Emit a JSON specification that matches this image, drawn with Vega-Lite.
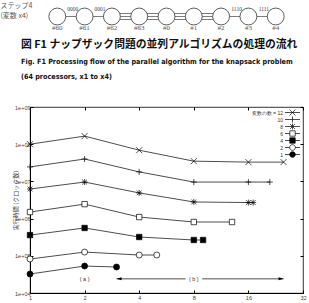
{
  "$schema": "https://vega.github.io/schema/vega-lite/v6.json",
  "padding": 0,
  "background": "white",
  "spacing": 0,
  "config": {"font": "Liberation Sans", "view": {"stroke": "black", "strokeWidth": 0.8}},
  "datasets": {
    "nodes": [
      {"idx": 0, "name": "#60"}, {"idx": 1, "name": "#61"}, {"idx": 2, "name": "#62"},
      {"idx": 3, "name": "#63"}, {"idx": 4, "name": "#0"}, {"idx": 5, "name": "#1"},
      {"idx": 6, "name": "#2"}, {"idx": 7, "name": "#3"}, {"idx": 8, "name": "#4"}
    ],
    "edges": [
      {"from": 0, "to": 1, "kind": "single", "label": "0000"},
      {"from": 1, "to": 2, "kind": "single", "label": "0001"},
      {"from": 2, "to": 3, "kind": "triple", "label": ""},
      {"from": 3, "to": 4, "kind": "triple", "label": ""},
      {"from": 4, "to": 5, "kind": "triple", "label": ""},
      {"from": 5, "to": 6, "kind": "triple", "label": ""},
      {"from": 6, "to": 7, "kind": "single", "label": "1110"},
      {"from": 7, "to": 8, "kind": "single", "label": "1111"}
    ],
    "series": [
      {"vars": 12, "procs": 1, "clocks": 100000000}, {"vars": 12, "procs": 2, "clocks": 165000000},
      {"vars": 12, "procs": 4, "clocks": 69000000}, {"vars": 12, "procs": 8, "clocks": 35000000},
      {"vars": 12, "procs": 16, "clocks": 33000000}, {"vars": 12, "procs": 25, "clocks": 33000000},
      {"vars": 10, "procs": 1, "clocks": 24500000}, {"vars": 10, "procs": 2, "clocks": 40000000},
      {"vars": 10, "procs": 4, "clocks": 18000000}, {"vars": 10, "procs": 8, "clocks": 9600000},
      {"vars": 10, "procs": 16, "clocks": 9600000}, {"vars": 10, "procs": 21, "clocks": 9600000},
      {"vars": 8, "procs": 1, "clocks": 6250000}, {"vars": 8, "procs": 2, "clocks": 9600000},
      {"vars": 8, "procs": 4, "clocks": 4900000}, {"vars": 8, "procs": 8, "clocks": 2800000},
      {"vars": 8, "procs": 16, "clocks": 2700000}, {"vars": 8, "procs": 17, "clocks": 2700000},
      {"vars": 6, "procs": 1, "clocks": 1500000}, {"vars": 6, "procs": 2, "clocks": 2450000},
      {"vars": 6, "procs": 4, "clocks": 1100000}, {"vars": 6, "procs": 8, "clocks": 810000},
      {"vars": 6, "procs": 13, "clocks": 810000},
      {"vars": 4, "procs": 1, "clocks": 360000}, {"vars": 4, "procs": 2, "clocks": 560000},
      {"vars": 4, "procs": 4, "clocks": 320000}, {"vars": 4, "procs": 8, "clocks": 266000},
      {"vars": 4, "procs": 9, "clocks": 266000},
      {"vars": 2, "procs": 1, "clocks": 82000}, {"vars": 2, "procs": 2, "clocks": 126000},
      {"vars": 2, "procs": 4, "clocks": 105000}, {"vars": 2, "procs": 5, "clocks": 105000},
      {"vars": 1, "procs": 1, "clocks": 32400}, {"vars": 1, "procs": 2, "clocks": 53000},
      {"vars": 1, "procs": 3, "clocks": 50000}
    ],
    "notes": [
      {"label": "( a )", "procs": 2, "clocks": 24000},
      {"label": "( b )", "procs": 8, "clocks": 24000}
    ],
    "arrows": [
      {"from": 3, "to": 7.2, "clocks": 24000},
      {"from": 8.9, "to": 25, "clocks": 24000}
    ],
    "heads": [
      {"procs": 3, "clocks": 24000, "dir": "left"},
      {"procs": 25, "clocks": 24000, "dir": "right"}
    ]
  },
  "vconcat": [
    {
      "width": 273,
      "height": 38,
      "view": {"stroke": null},
      "layer": [
        {
          "data": {"name": "edges"},
          "transform": [{"filter": "datum.kind == 'single'"}],
          "mark": {"type": "rule", "stroke": "#444", "strokeWidth": 0.7},
          "encoding": {
            "x": {"field": "from", "type": "quantitative", "scale": {"domain": [-0.645, 8.16]}, "axis": null},
            "x2": {"field": "to"},
            "y": {"datum": "node", "type": "nominal", "scale": {"domain": ["node", "label"], "range": [11, 33], "padding": 0}, "axis": {
              "domain": false, "ticks": false, "labels": false,
              "title": ["ステップ4", "(変数 x4)"], "titleAngle": 0, "titleAlign": "left", "titleBaseline": "top",
              "titleX": -30, "titleY": 1, "titleFont": "Noto Sans CJK JP", "titleFontSize": 7, "titleFontWeight": "normal",
              "titleColor": "#555", "titleLineHeight": 10
            }}
          }
        },
        {
          "data": {"name": "edges"},
          "transform": [{"filter": "datum.kind == 'triple'"}],
          "mark": {"type": "rule", "stroke": "#444", "strokeWidth": 0.7, "yOffset": -3},
          "encoding": {
            "x": {"field": "from", "type": "quantitative"},
            "x2": {"field": "to"},
            "y": {"datum": "node", "type": "nominal"}
          }
        },
        {
          "data": {"name": "edges"},
          "transform": [{"filter": "datum.kind == 'triple'"}],
          "mark": {"type": "rule", "stroke": "#444", "strokeWidth": 0.7},
          "encoding": {
            "x": {"field": "from", "type": "quantitative"},
            "x2": {"field": "to"},
            "y": {"datum": "node", "type": "nominal"}
          }
        },
        {
          "data": {"name": "edges"},
          "transform": [{"filter": "datum.kind == 'triple'"}],
          "mark": {"type": "rule", "stroke": "#444", "strokeWidth": 0.7, "yOffset": 3},
          "encoding": {
            "x": {"field": "from", "type": "quantitative"},
            "x2": {"field": "to"},
            "y": {"datum": "node", "type": "nominal"}
          }
        },
        {
          "data": {"name": "edges"},
          "mark": {"type": "text", "fontSize": 5.5, "color": "#444", "dx": 15.5, "dy": -7.5, "font": "Liberation Serif"},
          "encoding": {
            "x": {"field": "from", "type": "quantitative"},
            "y": {"datum": "node", "type": "nominal"},
            "text": {"field": "label"}
          }
        },
        {
          "data": {"name": "nodes"},
          "mark": {"type": "point", "shape": "circle", "size": 285, "filled": true, "fill": "white", "stroke": "#333", "strokeWidth": 0.8, "opacity": 1},
          "encoding": {
            "x": {"field": "idx", "type": "quantitative"},
            "y": {"datum": "node", "type": "nominal"}
          }
        },
        {
          "data": {"name": "nodes"},
          "mark": {"type": "text", "fontSize": 7, "color": "#555", "font": "Liberation Serif"},
          "encoding": {
            "x": {"field": "idx", "type": "quantitative"},
            "y": {"datum": "label", "type": "nominal"},
            "text": {"field": "name"}
          }
        }
      ]
    },
    {
      "width": 273,
      "height": 186,
      "title": {
        "text": "図 F1 ナップザック問題の並列アルゴリズムの処理の流れ",
        "subtitle": ["Fig. F1  Processing flow of the parallel algorithm for the knapsack problem", "(64 processors, x1 to x4)"],
        "anchor": "start",
        "frame": "group",
        "dx": -9,
        "font": "Noto Sans CJK JP",
        "fontSize": 10.8,
        "fontWeight": "bold",
        "color": "#111",
        "subtitleFont": "DejaVu Sans Condensed",
        "subtitleFontSize": 7.2,
        "subtitleFontWeight": "bold",
        "subtitleColor": "#111",
        "subtitleLineHeight": 15,
        "subtitlePadding": 8,
        "offset": 25
      },
      "layer": [
        {
          "data": {"name": "series"},
          "mark": {"type": "line", "stroke": "black", "strokeWidth": 0.7},
          "encoding": {
            "x": {"field": "procs", "type": "quantitative", "scale": {"type": "log", "base": 2, "domain": [1, 32]},
              "axis": {"values": [1, 2, 4, 8, 16, 32], "title": null, "format": "d", "grid": false,
                "labelFontSize": 5.5, "labelColor": "#444", "labelFlush": false, "labelOverlap": false,
                "tickSize": -3, "tickColor": "black", "domainColor": "black", "labelPadding": 5}},
            "y": {"field": "clocks", "type": "quantitative", "scale": {"type": "log", "domain": [10000, 1000000000]},
              "axis": {"values": [10000, 100000, 1000000, 10000000, 100000000, 1000000000],
                "labelExpr": "'1e+0' + round(log(datum.value) / LN10)", "grid": false,
                "labelFontSize": 5.5, "labelColor": "#444", "labelFlush": false, "labelOverlap": false,
                "tickSize": -3, "tickColor": "black", "domainColor": "black", "labelPadding": 3,
                "title": "実行時間 (クロック数)", "titleFont": "Noto Sans CJK JP", "titleFontSize": 6,
                "titleFontWeight": "normal", "titleColor": "#444", "titlePadding": -4}},
            "detail": {"field": "vars", "type": "nominal"}
          }
        },
        {
          "data": {"name": "series"},
          "mark": {"type": "point", "filled": true, "stroke": "black", "strokeWidth": 0.7, "size": 36, "opacity": 1},
          "encoding": {
            "x": {"field": "procs", "type": "quantitative", "axis": null},
            "y": {"field": "clocks", "type": "quantitative", "axis": null},
            "shape": {"field": "vars", "type": "nominal", "legend": null, "scale": {
              "domain": [12, 10, 8, 6, 4, 2, 1],
              "range": ["M-1,-1L1,1M-1,1L1,-1", "M-1,0H1M0,-1V1", "M-1,0H1M0,-1V1M-0.8,-0.8L0.8,0.8M-0.8,0.8L0.8,-0.8",
                "M-0.9,-0.9H0.9V0.9H-0.9Z", "M-0.9,-0.9H0.9V0.9H-0.9Z", "circle", "circle"]}},
            "fill": {"field": "vars", "type": "nominal", "legend": null, "scale": {
              "domain": [12, 10, 8, 6, 4, 2, 1],
              "range": ["transparent", "transparent", "transparent", "white", "black", "white", "black"]}}
          }
        },
        {
          "data": {"name": "arrows"},
          "mark": {"type": "rule", "stroke": "black", "strokeWidth": 0.7},
          "encoding": {
            "x": {"field": "from", "type": "quantitative", "axis": null},
            "x2": {"field": "to"},
            "y": {"field": "clocks", "type": "quantitative", "axis": null}
          }
        },
        {
          "data": {"name": "heads"},
          "transform": [{"filter": "datum.dir == 'left'"}],
          "mark": {"type": "point", "shape": "M0,0L2,-0.6L2,0.6Z", "size": 25, "filled": true, "fill": "black", "opacity": 1},
          "encoding": {
            "x": {"field": "procs", "type": "quantitative", "axis": null},
            "y": {"field": "clocks", "type": "quantitative", "axis": null}
          }
        },
        {
          "data": {"name": "heads"},
          "transform": [{"filter": "datum.dir == 'right'"}],
          "mark": {"type": "point", "shape": "M0,0L-2,-0.6L-2,0.6Z", "size": 25, "filled": true, "fill": "black", "opacity": 1},
          "encoding": {
            "x": {"field": "procs", "type": "quantitative", "axis": null},
            "y": {"field": "clocks", "type": "quantitative", "axis": null}
          }
        },
        {
          "data": {"name": "notes"},
          "mark": {"type": "text", "fontSize": 5.5, "color": "#333"},
          "encoding": {
            "x": {"field": "procs", "type": "quantitative", "axis": null},
            "y": {"field": "clocks", "type": "quantitative", "axis": null},
            "text": {"field": "label"}
          }
        },
        {
          "data": {"name": "series"},
          "transform": [{"filter": "false"}],
          "mark": {"type": "point", "filled": true, "strokeWidth": 0.7, "size": 9, "opacity": 1},
          "encoding": {
            "x": {"field": "procs", "type": "quantitative",
              "axis": {"orient": "top", "values": [1, 2, 4, 8, 16, 32], "labels": false, "domain": false, "title": null,
                "grid": false, "tickSize": -3, "tickColor": "black"}},
            "y": {"field": "clocks", "type": "quantitative",
              "axis": {"orient": "right", "values": [10000, 100000, 1000000, 10000000, 100000000, 1000000000],
                "labels": false, "domain": false, "title": null, "grid": false, "tickSize": -3, "tickColor": "black"}},
            "shape": {"field": "vars", "type": "nominal", "scale": {
              "domain": [12, 10, 8, 6, 4, 2, 1],
              "range": ["M-5,0H5M-2,-2L2,2M-2,2L2,-2", "M-5,0H5M0,-2V2",
                "M-5,0H5M0,-2V2M-1.6,-1.6L1.6,1.6M-1.6,1.6L1.6,-1.6",
                "M-5,0H-1.8M1.8,0H5M-1.8,-1.8H1.8V1.8H-1.8Z", "M-5,0H5M-1.8,-1.8H1.8V1.8H-1.8Z",
                "M-5,0H-1.9M1.9,0H5M-1.9,0A1.9,1.9 0 1,0 1.9,0A1.9,1.9 0 1,0 -1.9,0Z",
                "M-5,0H5M-1.9,0A1.9,1.9 0 1,0 1.9,0A1.9,1.9 0 1,0 -1.9,0Z"]},
              "legend": {"orient": "none", "legendX": 260, "legendY": 3, "title": null,
                "labelExpr": "datum.label == '12' ? '変数の数 = 12' : datum.label",
                "labelFontSize": 5, "labelColor": "#333", "labelAlign": "right", "labelOffset": -12,
                "labelBaseline": "middle",
                "symbolSize": 9, "symbolStrokeWidth": 0.7, "rowPadding": -3, "padding": 0}},
            "fill": {"field": "vars", "type": "nominal", "scale": {
              "domain": [12, 10, 8, 6, 4, 2, 1],
              "range": ["transparent", "transparent", "transparent", "white", "black", "white", "black"]},
              "legend": {"orient": "none", "legendX": 260, "legendY": 3, "title": null, "rowPadding": -3}},
            "stroke": {"field": "vars", "type": "nominal", "scale": {
              "domain": [12, 10, 8, 6, 4, 2, 1],
              "range": ["black", "black", "black", "black", "black", "black", "black"]},
              "legend": {"orient": "none", "legendX": 260, "legendY": 3, "title": null, "rowPadding": -3}}
          }
        }
      ],
      "resolve": {"scale": {"shape": "independent", "fill": "independent", "stroke": "independent"}, "axis": {"x": "independent", "y": "independent"}}
    }
  ]
}
